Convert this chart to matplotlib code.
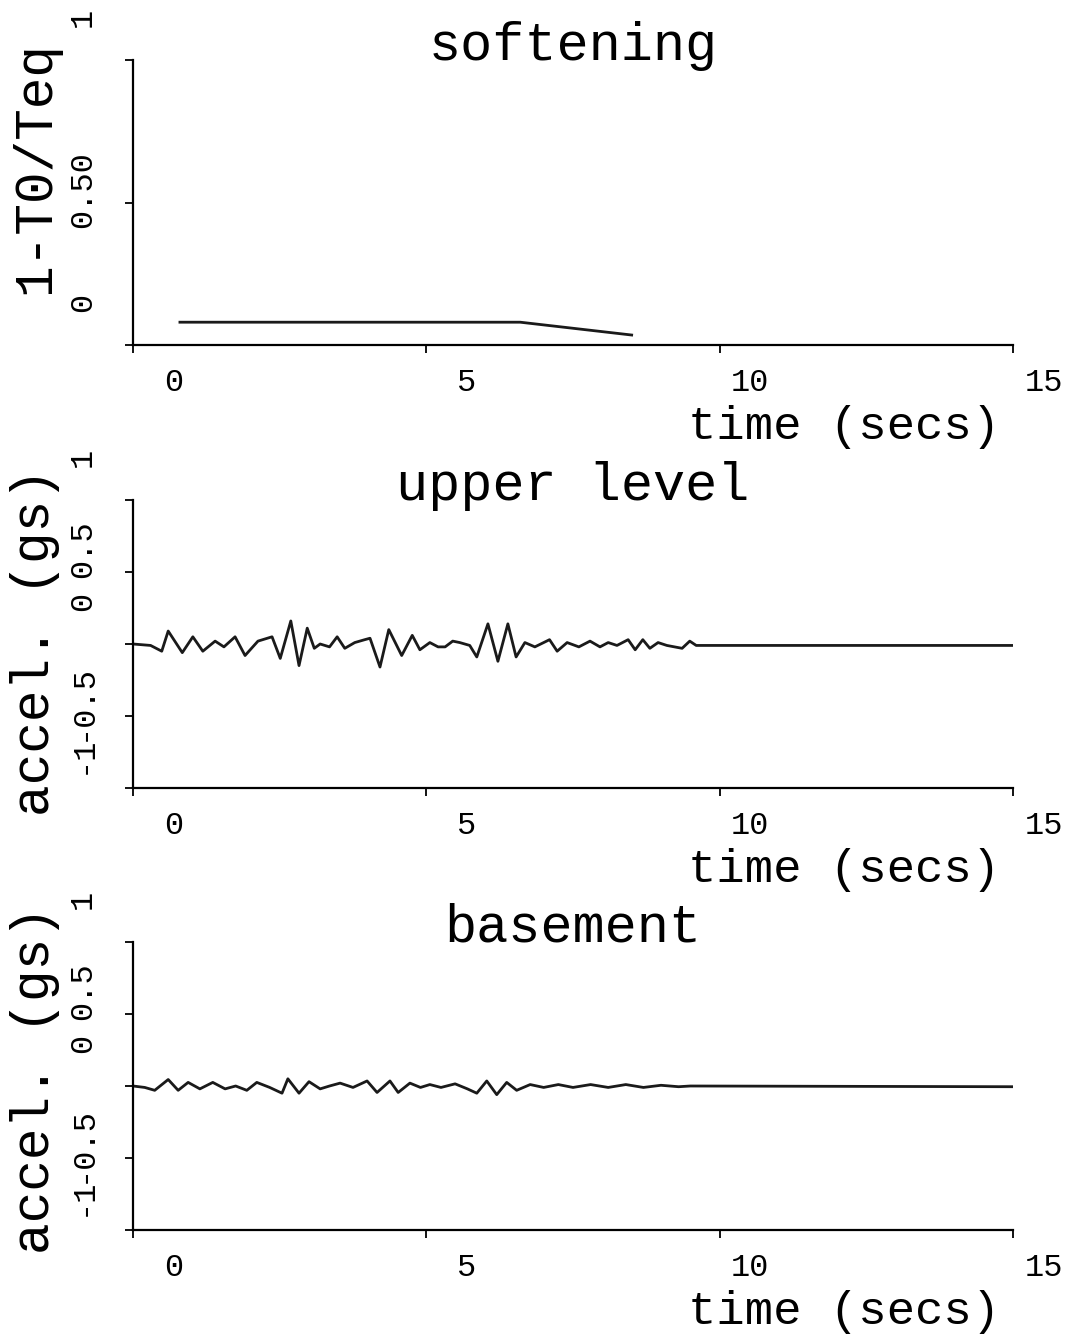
import matplotlib

matplotlib.use("Agg")
import matplotlib.pyplot as plt

plt.rcParams["font.family"] = ["Liberation Mono", "DejaVu Sans Mono"]

# softening curve (1 - T0/Teq)
soft_t = [0.8, 6.6, 8.5]
soft_v = [0.08, 0.08, 0.035]

# upper level acceleration (g)
upper_t = [0.0, 0.30, 0.49, 0.60, 0.84, 1.02, 1.19, 1.40, 1.55, 1.74, 1.91, 2.13, 2.37,
           2.51, 2.69, 2.83, 2.97, 3.09, 3.19, 3.35, 3.48, 3.61, 3.78, 3.95, 4.04, 4.21,
           4.36, 4.58, 4.76, 4.89, 5.06, 5.20, 5.32, 5.45, 5.57, 5.74, 5.86, 6.05, 6.22,
           6.39, 6.53, 6.68, 6.85, 7.00, 7.10, 7.23, 7.40, 7.60, 7.79, 7.96, 8.10, 8.25,
           8.44, 8.56, 8.69, 8.81, 8.95, 9.10, 9.36, 9.49, 9.60, 15.0]
upper_v = [0.0, -0.01, -0.05, 0.09, -0.06, 0.05, -0.05, 0.02, -0.02, 0.05, -0.08, 0.02,
           0.05, -0.10, 0.16, -0.15, 0.11, -0.03, 0.00, -0.02, 0.05, -0.03, 0.01, 0.03,
           0.04, -0.16, 0.10, -0.08, 0.06, -0.04, 0.01, -0.02, -0.02, 0.02, 0.01, -0.01,
           -0.09, 0.14, -0.12, 0.14, -0.09, 0.01, -0.02, 0.01, 0.03, -0.05, 0.01, -0.02,
           0.02, -0.02, 0.01, -0.01, 0.03, -0.04, 0.03, -0.03, 0.01, -0.01, -0.03, 0.02,
           -0.01, -0.01]

# basement acceleration (g)
base_t = [0.0, 0.20, 0.37, 0.60, 0.77, 0.94, 1.14, 1.36, 1.57, 1.75, 1.94, 2.11, 2.33,
          2.54, 2.64, 2.83, 3.00, 3.19, 3.35, 3.53, 3.75, 3.99, 4.16, 4.38, 4.52, 4.72,
          4.90, 5.06, 5.25, 5.49, 5.70, 5.86, 6.03, 6.20, 6.37, 6.54, 6.77, 7.00, 7.25,
          7.50, 7.80, 8.10, 8.40, 8.70, 9.00, 9.30, 9.50, 15.0]
base_v = [0.0, -0.01, -0.03, 0.045, -0.03, 0.025, -0.02, 0.025, -0.02, 0.0, -0.03, 0.025,
          -0.01, -0.05, 0.05, -0.05, 0.03, -0.02, 0.0, 0.02, -0.01, 0.035, -0.045, 0.035,
          -0.045, 0.02, -0.01, 0.01, -0.01, 0.015, -0.02, -0.05, 0.035, -0.06, 0.025,
          -0.03, 0.01, -0.01, 0.01, -0.01, 0.01, -0.01, 0.01, -0.01, 0.005, -0.005, 0.0,
          -0.005]

x_ticks = [0, 5, 10, 15]
x_labels = ["0", "5", "10", "15"]
soft_ticks = [0, 0.5, 1]
soft_labels = ["0", "0.50", "1"]
acc_ticks = [-1, -0.5, 0, 0.5, 1]
acc_labels = ["-1", "-0.5", "0", "0.5", "1"]

W, H = 1071, 1336
PT = 0.72  # points per pixel at dpi 100

panels = [
    dict(top=60, bottom=345, title="softening", ylabel="1-T0/Teq", t=soft_t, v=soft_v,
         ylim=(0, 1), ticks=soft_ticks, labels=soft_labels, ylab_y=167),
    dict(top=500, bottom=788, title="upper level", ylabel="accel. (gs)", t=upper_t,
         v=upper_v, ylim=(-1, 1), ticks=acc_ticks, labels=acc_labels, ylab_y=642),
    dict(top=942, bottom=1230, title="basement", ylabel="accel. (gs)", t=base_t,
         v=base_v, ylim=(-1, 1), ticks=acc_ticks, labels=acc_labels, ylab_y=1080),
]

fig = plt.figure(figsize=(W / 100, H / 100), dpi=100)
x0, x1 = 133, 1013

for p in panels:
    ax = fig.add_axes([x0 / W, 1 - p["bottom"] / H, (x1 - x0) / W,
                       (p["bottom"] - p["top"]) / H])
    ax.plot(p["t"], p["v"], color="#1a1a1a", lw=2.0, solid_joinstyle="round")
    ax.set_xlim(0, 15)
    ax.set_ylim(*p["ylim"])
    for s in ["top", "right"]:
        ax.spines[s].set_visible(False)
    for s in ["left", "bottom"]:
        ax.spines[s].set_linewidth(1.6)
    ax.set_xticks(x_ticks)
    ax.set_yticks(p["ticks"])
    ax.set_xticklabels([])
    ax.set_yticklabels([])
    ax.tick_params(direction="out", length=6, width=1.3)

    # tick labels sit offset from their ticks, as in the original plot
    for t, lab in zip(x_ticks, x_labels):
        ax.annotate(lab, xy=(t, 0), xycoords=("data", "axes fraction"),
                    xytext=(50 * PT, -38 * PT), textcoords="offset points",
                    ha="right", va="center", fontsize=23)
    for y, lab in zip(p["ticks"], p["labels"]):
        ax.annotate(lab, xy=(0, y), xycoords=("axes fraction", "data"),
                    xytext=(-50 * PT, 52 * PT), textcoords="offset points",
                    rotation=90, rotation_mode="anchor", ha="right", va="center",
                    fontsize=23)

    ax.text(0.5, 1.0, p["title"], transform=ax.transAxes, ha="center",
            va="baseline", fontsize=38.5)
    ax.annotate("time (secs)", xy=(1, 0), xycoords="axes fraction",
                xytext=(-13 * PT, -82 * PT), textcoords="offset points",
                ha="right", va="center", fontsize=34)
    fig.text(35 / W, 1 - p["ylab_y"] / H, p["ylabel"], rotation=90, ha="center",
             va="center", fontsize=38)

fig.savefig("out.png", dpi=100)
